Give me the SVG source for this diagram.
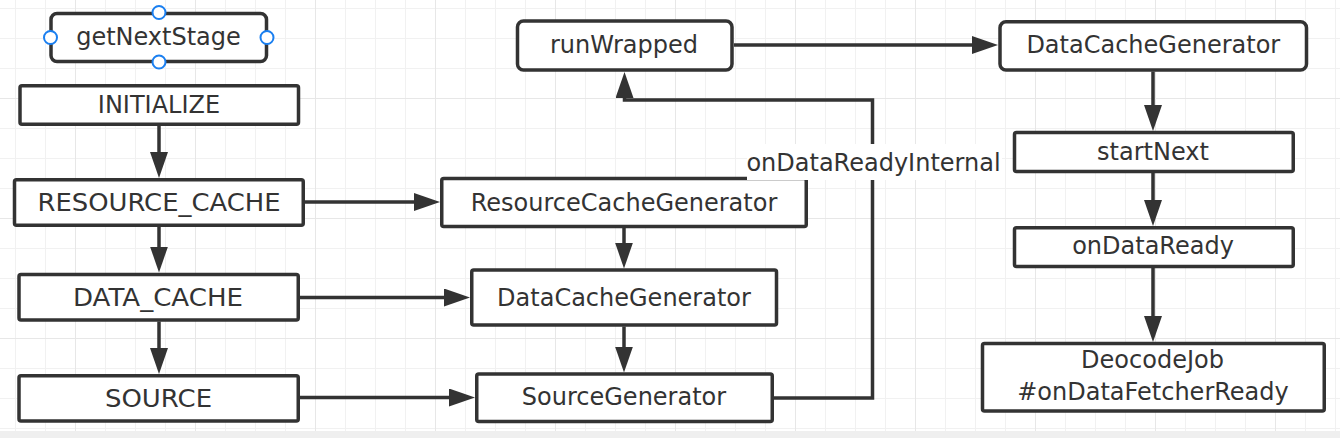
<svg xmlns="http://www.w3.org/2000/svg" width="1340" height="438" viewBox="0 0 1340 438">
  <defs>
    <pattern id="grid" patternUnits="userSpaceOnUse" x="15" y="8" width="120" height="120">
      <rect x="0" y="0" width="120" height="120" fill="#ffffff"/>
      <g fill="#f1f1f1">
        <rect x="0" y="0" width="1" height="120"/>
        <rect x="30" y="0" width="1" height="120"/>
        <rect x="90" y="0" width="1" height="120"/>
        <rect x="0" y="0" width="120" height="1"/>
        <rect x="0" y="30" width="120" height="1"/>
        <rect x="0" y="60" width="120" height="1"/>
      </g>
      <g fill="#e7e7e7">
        <rect x="60" y="0" width="1" height="120"/>
        <rect x="0" y="90" width="120" height="1"/>
      </g>
    </pattern>
    <marker id="arrow" markerUnits="userSpaceOnUse" viewBox="0 0 26 18" refX="16" refY="9" markerWidth="26" markerHeight="18" orient="auto">
      <path d="M0,0 L26,9 L0,18 Z" fill="#333333"/>
    </marker>
  </defs>
  <style>
    .box { fill: #ffffff; stroke: #333333; stroke-width: 3.5; }
    .lbl { font-family: "DejaVu Sans", "Liberation Sans", sans-serif; font-size: 24px; fill: #333333; text-anchor: middle; }
    .edge { fill: none; stroke: #333333; stroke-width: 3.5; marker-end: url(#arrow); }
    .plain { fill: none; stroke: #333333; stroke-width: 3.5; }
    .handle { fill: #ffffff; stroke: #1a7ff0; stroke-width: 2; }
  </style>

  <rect x="0" y="0" width="1340" height="438" fill="url(#grid)"/>
  <rect x="0" y="431" width="1340" height="7" fill="#efefef"/>

  <g id="connectors">
    <path class="edge" d="M159,126 V168"/>
    <path class="edge" d="M159,227 V262.5"/>
    <path class="edge" d="M159,321.5 V364"/>
    <path class="edge" d="M305,202 H430"/>
    <path class="edge" d="M300,297.5 H460"/>
    <path class="edge" d="M300,397.5 H465"/>
    <path class="edge" d="M624,228 V258.5"/>
    <path class="edge" d="M624,326.5 V362.5"/>
    <path class="edge" d="M773,398 H872.5 V100 H624.5 V82"/>
    <path class="edge" d="M734,45 H988"/>
    <path class="edge" d="M1153,71.5 V121"/>
    <path class="edge" d="M1153,173 V216"/>
    <path class="edge" d="M1153,268 V332"/>
  </g>

  <g id="node-getNextStage">
    <rect class="box" x="51" y="13.5" width="215.5" height="48" rx="6"/>
    <text class="lbl" x="158.5" y="45" font-size="21.5">getNextStage</text>
    <circle class="handle" cx="159" cy="12.5" r="6.5"/>
    <circle class="handle" cx="159" cy="62" r="6.5"/>
    <circle class="handle" cx="50.5" cy="37.5" r="6.5"/>
    <circle class="handle" cx="267" cy="37.5" r="6.5"/>
  </g>

  <g id="node-INITIALIZE">
    <rect class="box" x="20" y="85.75" width="278.5" height="38.5" rx="2"/>
    <text class="lbl" x="159" y="113">INITIALIZE</text>
  </g>

  <g id="node-RESOURCE_CACHE">
    <rect class="box" x="14.5" y="179.75" width="288.75" height="45.5" rx="2"/>
    <text class="lbl" x="159" y="211" textLength="243" lengthAdjust="spacingAndGlyphs">RESOURCE_CACHE</text>
  </g>

  <g id="node-DATA_CACHE">
    <rect class="box" x="19" y="274.5" width="279.25" height="45.5" rx="2"/>
    <text class="lbl" x="158" y="306" textLength="170" lengthAdjust="spacingAndGlyphs">DATA_CACHE</text>
  </g>

  <g id="node-SOURCE">
    <rect class="box" x="19" y="375.75" width="279.25" height="45.25" rx="2"/>
    <text class="lbl" x="158.5" y="406.5" textLength="107" lengthAdjust="spacingAndGlyphs">SOURCE</text>
  </g>

  <g id="node-ResourceCacheGenerator">
    <rect class="box" x="441.75" y="178.5" width="364.5" height="48" rx="2"/>
    <text class="lbl" x="624" y="210.7">ResourceCacheGenerator</text>
  </g>

  <g id="node-DataCacheGenerator-mid">
    <rect class="box" x="471.75" y="270" width="304.75" height="55" rx="2"/>
    <text class="lbl" x="624" y="306">DataCacheGenerator</text>
  </g>

  <g id="node-SourceGenerator">
    <rect class="box" x="476.75" y="374" width="295.5" height="47.5" rx="2"/>
    <text class="lbl" x="624" y="405">SourceGenerator</text>
  </g>

  <g id="node-runWrapped">
    <rect class="box" x="517.5" y="21" width="214.5" height="49" rx="6"/>
    <text class="lbl" x="624" y="53.3">runWrapped</text>
  </g>

  <g id="node-DataCacheGenerator-top">
    <rect class="box" x="1000" y="21.75" width="306.5" height="48.25" rx="6"/>
    <text class="lbl" x="1153.3" y="53.3">DataCacheGenerator</text>
  </g>

  <g id="node-startNext">
    <rect class="box" x="1014.5" y="132.5" width="278.75" height="39" rx="2"/>
    <text class="lbl" x="1153" y="160">startNext</text>
  </g>

  <g id="node-onDataReady">
    <rect class="box" x="1014.5" y="227.75" width="278.75" height="38.75" rx="2"/>
    <text class="lbl" x="1153" y="254.3">onDataReady</text>
  </g>

  <g id="node-DeocodeJob">
    <rect class="box" x="982.5" y="343.5" width="341.75" height="67.5" rx="2"/>
    <text class="lbl" x="1152.5" y="368.3">DeocodeJob</text>
    <text class="lbl" x="1153" y="400">#onDataFetcherReady</text>
  </g>

  <g id="label-onDataReadyInternal">
    <rect x="747" y="144" width="255" height="36" fill="#ffffff"/>
    <text class="lbl" x="873.5" y="170.7" font-size="23">onDataReadyInternal</text>
  </g>
</svg>
